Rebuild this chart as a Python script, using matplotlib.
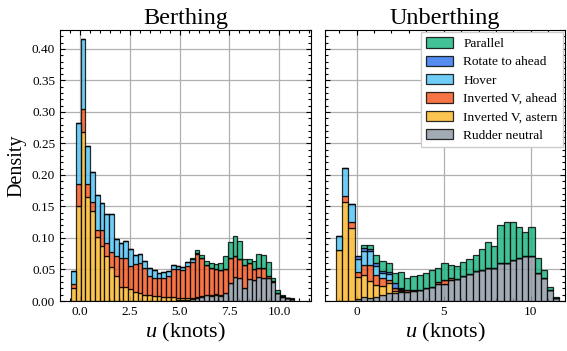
import numpy as np
import matplotlib.pyplot as plt
from matplotlib.ticker import MultipleLocator, AutoMinorLocator

plt.rcParams['font.family'] = 'serif'
plt.rcParams['font.serif'] = ['Liberation Serif', 'DejaVu Serif']
plt.rcParams['mathtext.fontset'] = 'custom'
plt.rcParams['mathtext.rm'] = 'Liberation Serif'
plt.rcParams['mathtext.it'] = 'Liberation Serif:italic'

# stacking order, bottom to top
labels = ['Rudder neutral', 'Inverted V, astern', 'Inverted V, ahead',
          'Hover', 'Rotate to ahead', 'Parallel']
colors = ['#8e97a3', '#fbb829', '#f4561c', '#4fc3f7', '#2f73ec', '#18b27f']

# Berthing: 47 bins
berth_edges = np.linspace(-0.42, 10.7425, 48)
berth_neutral = [0] * 22 + [.001, .002, .002, .003, .004, .006, .009, .008, .010, .008,
                            .012, .028, .038, .037, .021, .035, .033, .038, .037, .036,
                            .030, .012, .007, .004, .003]
berth_astern = [.020, .151, .268, .165, .143, .102, .087, .071, .054, .039,
                .023, .023, .019, .014, .012, .009, .009, .008, .008, .007,
                .006, .006, .004, .003, .003, .002, .002, .002, .001, .001,
                .001, .001, .001] + [0] * 14
berth_ahead = [.007, .034, .037, .021, .014, .011, .026, .021, .023, .032,
               .045, .045, .036, .044, .048, .043, .030, .029, .028, .030,
               .033, .044, .045, .044, .050, .057, .069, .060, .047, .043,
               .039, .040, .037, .041, .033, .030, .036, .025, .017, .015,
               .016, .004, .002, .001, .001, 0, 0]
berth_hover = [.021, .097, .110, .060, .047, .055, .043, .046, .061, .027,
               .024, .027, .027, .015, .015, .012, .014, .012, .009, .009,
               .009, .007, .005, .005, .007, .004, .001] + [0] * 20
berth_rotate = [0] * 47
berth_parallel = [0] * 25 + [.002, .005, .005, .006, .009, .008, .012, .021, .025, .032,
                             .028, .009, .006, .013, .022, .020, .022, .004, .004, .002,
                             .001, .001]

# Unberthing: 36 bins
unberth_edges = np.linspace(-1.19, 11.65, 37)
unberth_neutral = [0, 0, 0, .003, .006, .004, .006, .009, .012, .013,
                   .015, .015, .016, .017, .020, .022, .027, .027, .033, .035,
                   .039, .043, .047, .049, .053, .052, .060, .061, .065, .069,
                   .072, .071, .045, .037, .017, .004]
unberth_astern = [.081, .157, .116, .035, .035, .028, .020, .015, .016, .003,
                  .001] + [0] * 25
unberth_ahead = [0, .009, .009, .008, .016, .025, .016, .012, .005, .004,
                 .002, .002, .001, .001, .001, .001, .003, .006, .003, 0,
                 0, 0, 0, 0, 0, 0, .001, 0, 0, 0,
                 0, 0, 0, 0, 0, 0]
unberth_hover = [.022, .045, .029, .020, .022, .022, .014, .008, .010, .001,
                 .001] + [0] * 25
unberth_rotate = [0, 0, 0, .005, .005, .004, .005, .004, .003, .007,
                  .002] + [0] * 25
unberth_parallel = [0, 0, 0, 0, .005, .006, .012, .015, .014, .017,
                    .025, .020, .023, .024, .023, .026, .022, .028, .021, .020,
                    .023, .024, .026, .033, .040, .036, .059, .064, .060, .049,
                    .037, .046, .023, .012, .005, .002]

berth = [berth_neutral, berth_astern, berth_ahead, berth_hover, berth_rotate, berth_parallel]
unberth = [unberth_neutral, unberth_astern, unberth_ahead, unberth_hover,
           unberth_rotate, unberth_parallel]


def stacked(ax, edges, series):
    bottom = np.zeros(len(edges) - 1)
    for vals, lab, col in zip(series, labels, colors):
        vals = np.asarray(vals, dtype=float)
        ax.bar(edges[:-1], vals, width=np.diff(edges), bottom=bottom, align='edge',
               color=col, edgecolor='black', linewidth=0.9, alpha=0.82, label=lab)
        bottom = bottom + vals


fig = plt.figure(figsize=(5.67, 3.51), dpi=100)
ax1 = fig.add_axes([60 / 567, 50 / 351, 251 / 567, 271 / 351])
ax2 = fig.add_axes([325 / 567, 50 / 351, 240 / 567, 271 / 351], sharey=ax1)

stacked(ax1, berth_edges, berth)
stacked(ax2, unberth_edges, unberth)

ax1.set_xlim(-0.98, 11.58)
ax2.set_xlim(-1.82, 11.97)
ax1.set_ylim(0, 0.43)

ax1.xaxis.set_major_locator(MultipleLocator(2.5))
ax2.xaxis.set_major_locator(MultipleLocator(5))
ax1.yaxis.set_major_locator(MultipleLocator(0.05))
ax1.yaxis.set_minor_locator(MultipleLocator(0.01))

for ax in (ax1, ax2):
    ax.xaxis.set_minor_locator(AutoMinorLocator(5))
    ax.tick_params(which='both', direction='in', top=True, right=True,
                   labelsize=9.5, width=0.8)
    ax.tick_params(which='major', length=3.5)
    ax.tick_params(which='minor', length=2)
    ax.grid(True, color='#b0b0b0', linewidth=0.9)
    ax.set_axisbelow(True)
    ax.set_xlabel('$u$ (knots)', fontsize=16, labelpad=2)
    for s in ax.spines.values():
        s.set_linewidth(0.8)
ax2.tick_params(labelleft=False)

ax1.set_ylabel('Density', fontsize=14.5, labelpad=4)
ax1.set_title('Berthing', fontsize=17.5, pad=4)
ax2.set_title('Unberthing', fontsize=17.5, pad=4)

h, l = ax2.get_legend_handles_labels()
ax2.legend(h[::-1], l[::-1], loc='upper right', fontsize=9.6, fancybox=False,
           framealpha=1, edgecolor='#cccccc', borderaxespad=0.15,
           handlelength=2.0, handleheight=0.8, labelspacing=0.42)

fig.savefig('out.png', dpi=100)
